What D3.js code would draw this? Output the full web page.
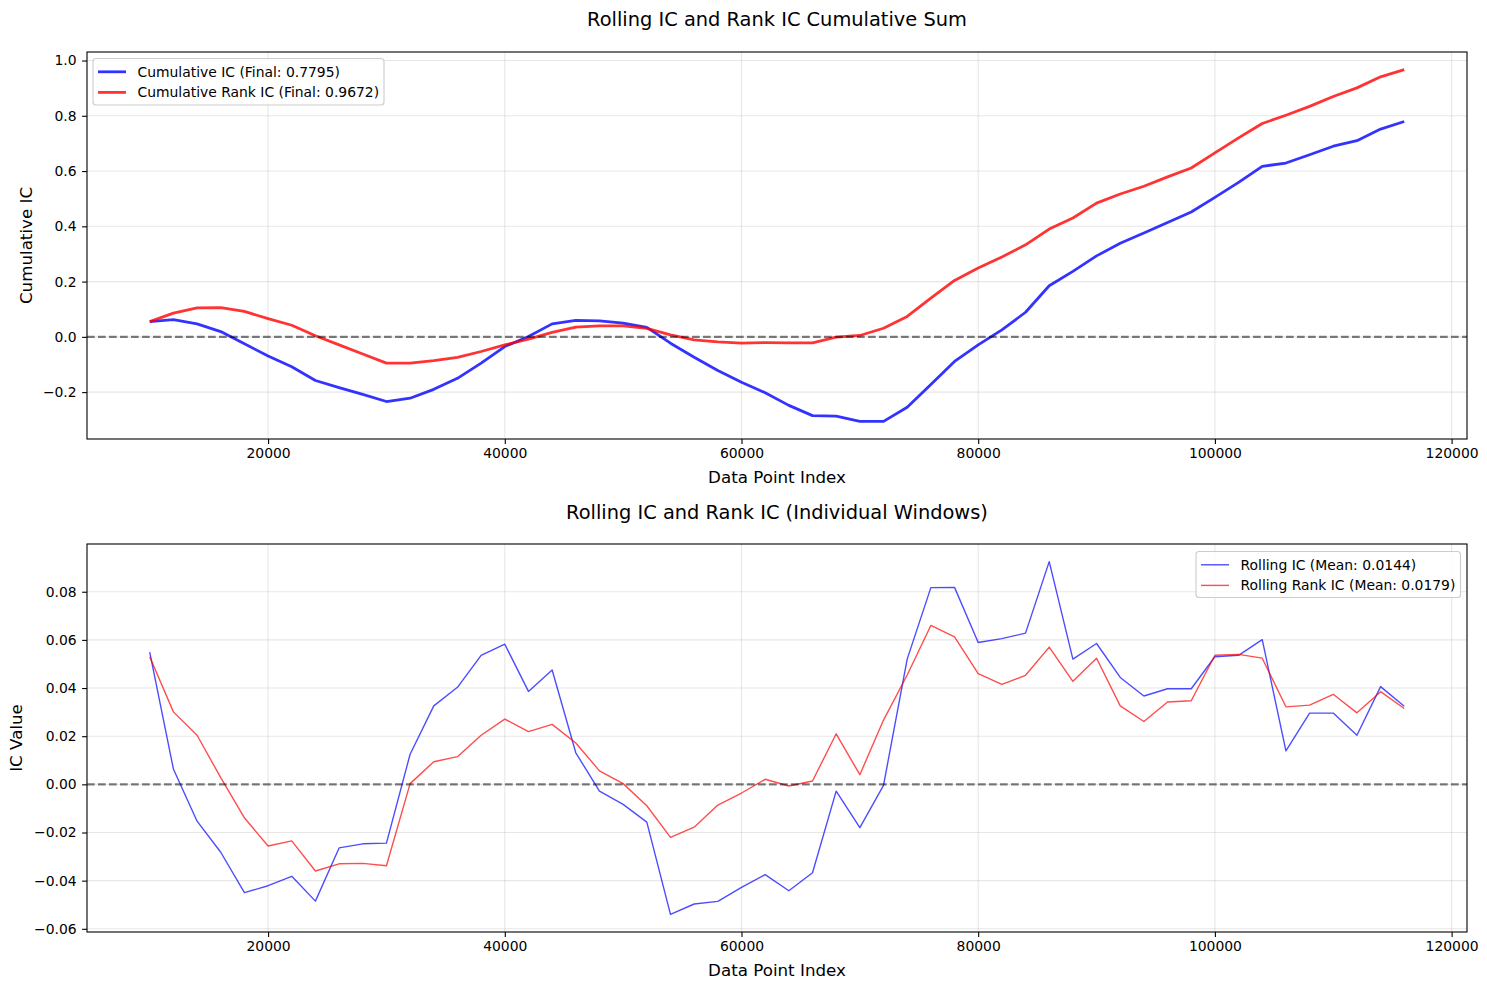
<!DOCTYPE html>
<html>
<head>
<meta charset="utf-8">
<script src="https://cdn.jsdelivr.net/npm/d3@7"></script>
<style>
  body { margin: 0; background: #fff; }
  text { font-family: "DejaVu Sans", sans-serif; }
</style>
</head>
<body>
<div id="viz"></div>
<script>
// window index (x) for every rolling window
const dataIndex = [10000, 12000, 14000, 16000, 18000, 20000, 22000, 24000, 26000, 28000,
    30000, 32000, 34000, 36000, 38000, 40000, 42000, 44000, 46000, 48000,
    50000, 52000, 54000, 56000, 58000, 60000, 62000, 64000, 66000, 68000,
    70000, 72000, 74000, 76000, 78000, 80000, 82000, 84000, 86000, 88000,
    90000, 92000, 94000, 96000, 98000, 100000, 102000, 104000, 106000, 108000,
    110000, 112000, 114000, 116000];

const cumIC = [0.055, 0.062, 0.047, 0.019, -0.025, -0.069, -0.108, -0.158, -0.184, -0.208,
    -0.234, -0.222, -0.190, -0.150, -0.095, -0.035, 0.001, 0.047, 0.060, 0.058,
    0.050, 0.034, -0.023, -0.074, -0.122, -0.164, -0.202, -0.248, -0.285, -0.287,
    -0.306, -0.306, -0.255, -0.172, -0.089, -0.029, 0.025, 0.089, 0.185, 0.237,
    0.293, 0.339, 0.376, 0.414, 0.452, 0.505, 0.559, 0.617, 0.629, 0.659,
    0.690, 0.710, 0.752, 0.7795];

const cumRankIC = [0.055, 0.086, 0.105, 0.106, 0.092, 0.066, 0.042, 0.004, -0.029, -0.062,
    -0.095, -0.095, -0.086, -0.074, -0.053, -0.029, -0.008, 0.016, 0.035, 0.040,
    0.040, 0.031, 0.007, -0.011, -0.018, -0.023, -0.021, -0.022, -0.022, -0.001,
    0.005, 0.031, 0.074, 0.140, 0.204, 0.249, 0.289, 0.333, 0.390, 0.430,
    0.484, 0.517, 0.545, 0.579, 0.611, 0.666, 0.720, 0.772, 0.802, 0.834,
    0.870, 0.901, 0.941, 0.9672];

const rollIC = [0.0549, 0.0064, -0.0153, -0.0282, -0.0450, -0.0421, -0.0382, -0.0485, -0.0264, -0.0247,
    -0.0244, 0.0125, 0.0326, 0.0403, 0.0536, 0.0582, 0.0386, 0.0475, 0.0131, -0.0028,
    -0.0083, -0.0157, -0.0540, -0.0497, -0.0486, -0.0428, -0.0375, -0.0442, -0.0367, -0.0028,
    -0.0180, -0.0004, 0.0520, 0.0817, 0.0818, 0.0589, 0.0605, 0.0628, 0.0925, 0.0520,
    0.0585, 0.0444, 0.0367, 0.0397, 0.0397, 0.0530, 0.0536, 0.0601, 0.0139, 0.0296,
    0.0296, 0.0204, 0.0406, 0.0324];

const rollRankIC = [0.0530, 0.0301, 0.0204, 0.0028, -0.0139, -0.0256, -0.0235, -0.0360, -0.0330, -0.0328,
    -0.0338, 0.0003, 0.0094, 0.0115, 0.0204, 0.0271, 0.0219, 0.0249, 0.0172, 0.0056,
    0.0003, -0.0089, -0.0220, -0.0178, -0.0086, -0.0036, 0.0021, -0.0007, 0.0014, 0.0210,
    0.0040, 0.0267, 0.0454, 0.0660, 0.0612, 0.0460, 0.0415, 0.0453, 0.0570, 0.0428,
    0.0524, 0.0326, 0.0261, 0.0342, 0.0347, 0.0536, 0.0540, 0.0524, 0.0322, 0.0329,
    0.0374, 0.0297, 0.0385, 0.0315];

const xTicks = [20000, 40000, 60000, 80000, 100000, 120000];
const yTicksTop = [-0.2, 0.0, 0.2, 0.4, 0.6, 0.8, 1.0];
const yTicksBottom = [-0.06, -0.04, -0.02, 0.00, 0.02, 0.04, 0.06, 0.08];

const width = 1487;
const height = 989;
const left = 87;
const right = 1467;

const tickFont = 13.9;
const labelFont = 16.7;
const titleFont = 19.4;

const svg = d3.select('#viz')
    .append('svg')
        .attr('width', width)
        .attr('height', height)
        .attr('viewBox', [0, 0, width, height]);

// matplotlib style 5% margins
function padded(ext) {
    const pad = (ext[1] - ext[0]) * 0.05;
    return [ext[0] - pad, ext[1] + pad];
}

const xScale = d3.scaleLinear()
    .domain(padded(d3.extent(dataIndex)))
    .range([left, right]);

function drawPanel(opts) {
    const top = opts.top, bottom = opts.bottom;
    const allVals = opts.series.flatMap(s => s.values);
    const yScale = d3.scaleLinear()
        .domain(padded(d3.extent(allVals)))
        .range([bottom, top]);

    const g = svg.append('g');

    // grid
    g.append('g').selectAll('line.gx')
        .data(xTicks.filter(t => xScale(t) <= right))
        .join('line')
            .attr('x1', d => xScale(d)).attr('x2', d => xScale(d))
            .attr('y1', top).attr('y2', bottom)
            .attr('stroke', '#b0b0b0').attr('stroke-opacity', 0.3).attr('stroke-width', 1.1);
    g.append('g').selectAll('line.gy')
        .data(opts.yTicks)
        .join('line')
            .attr('x1', left).attr('x2', right)
            .attr('y1', d => yScale(d)).attr('y2', d => yScale(d))
            .attr('stroke', '#b0b0b0').attr('stroke-opacity', 0.3).attr('stroke-width', 1.1);

    const line = d3.line()
        .x((d, i) => xScale(dataIndex[i]))
        .y(d => yScale(d));

    opts.series.forEach(s => {
        g.append('path')
            .datum(s.values)
            .attr('d', line)
            .attr('fill', 'none')
            .attr('stroke', s.color)
            .attr('stroke-opacity', opts.alpha)
            .attr('stroke-width', opts.lineWidth)
            .attr('stroke-linejoin', 'round');
    });

    // zero line
    g.append('line')
        .attr('x1', left).attr('x2', right)
        .attr('y1', yScale(0)).attr('y2', yScale(0))
        .attr('stroke', '#000').attr('stroke-opacity', 0.5)
        .attr('stroke-width', 2.08)
        .attr('stroke-dasharray', '7.7,3.3');

    // axes
    const xAxis = g.append('g')
        .attr('transform', `translate(0,${bottom})`)
        .call(d3.axisBottom(xScale).tickValues(xTicks).tickFormat(d3.format('d'))
            .tickSize(4.9).tickSizeOuter(0).tickPadding(4.2));
    const yAxis = g.append('g')
        .attr('transform', `translate(${left},0)`)
        .call(d3.axisLeft(yScale).tickValues(opts.yTicks).tickFormat(d3.format(opts.fmt))
            .tickSize(4.9).tickSizeOuter(0).tickPadding(5.5));
    [xAxis, yAxis].forEach(a => {
        a.select('.domain').remove();
        a.selectAll('text').attr('font-size', tickFont).attr('fill', '#000')
            .attr('font-family', '"DejaVu Sans", sans-serif');
        a.selectAll('line').attr('stroke', '#000').attr('stroke-width', 1.1);
    });

    // frame
    g.append('rect')
        .attr('x', left).attr('y', top)
        .attr('width', right - left).attr('height', bottom - top)
        .attr('fill', 'none').attr('stroke', '#000').attr('stroke-width', 1.1);

    // texts
    g.append('text')
        .attr('x', (left + right) / 2).attr('y', opts.titleY)
        .attr('text-anchor', 'middle').attr('font-size', titleFont)
        .text(opts.title);
    g.append('text')
        .attr('x', (left + right) / 2).attr('y', bottom + 44)
        .attr('text-anchor', 'middle').attr('font-size', labelFont)
        .text('Data Point Index');
    g.append('text')
        .attr('transform', `translate(${opts.yLabelX},${(top + bottom) / 2}) rotate(-90)`)
        .attr('text-anchor', 'middle').attr('dominant-baseline', 'central')
        .attr('font-size', labelFont)
        .text(opts.yLabel);

    // legend
    const lg = g.append('g');
    lg.append('rect')
        .attr('x', opts.legend.x).attr('y', opts.legend.y)
        .attr('width', opts.legend.w).attr('height', opts.legend.h)
        .attr('rx', 3)
        .attr('fill', '#fff').attr('fill-opacity', 0.8)
        .attr('stroke', '#cccccc').attr('stroke-width', 1.1);
    opts.series.forEach((s, i) => {
        const cy = opts.legend.y + 13.3 + i * 20.6;
        lg.append('line')
            .attr('x1', opts.legend.x + 5).attr('x2', opts.legend.x + 33)
            .attr('y1', cy).attr('y2', cy)
            .attr('stroke', s.color).attr('stroke-opacity', opts.alpha)
            .attr('stroke-width', opts.lineWidth);
        lg.append('text')
            .attr('x', opts.legend.x + 44.5).attr('y', cy)
            .attr('dominant-baseline', 'central')
            .attr('font-size', tickFont)
            .text(s.label);
    });
}

drawPanel({
    top: 52, bottom: 439,
    title: 'Rolling IC and Rank IC Cumulative Sum', titleY: 26,
    yLabel: 'Cumulative IC', yLabelX: 26,
    yTicks: yTicksTop, fmt: '.1f',
    alpha: 0.8, lineWidth: 2.78,
    series: [
        { values: cumIC, color: 'blue', label: 'Cumulative IC (Final: 0.7795)' },
        { values: cumRankIC, color: 'red', label: 'Cumulative Rank IC (Final: 0.9672)' }
    ],
    legend: { x: 93, y: 58.5, w: 291, h: 46.5 }
});

drawPanel({
    top: 544, bottom: 932,
    title: 'Rolling IC and Rank IC (Individual Windows)', titleY: 519,
    yLabel: 'IC Value', yLabelX: 16.3,
    yTicks: yTicksBottom, fmt: '.2f',
    alpha: 0.7, lineWidth: 1.39,
    series: [
        { values: rollIC, color: 'blue', label: 'Rolling IC (Mean: 0.0144)' },
        { values: rollRankIC, color: 'red', label: 'Rolling Rank IC (Mean: 0.0179)' }
    ],
    legend: { x: 1196, y: 551.5, w: 264.5, h: 46 }
});
</script>
</body>
</html>
